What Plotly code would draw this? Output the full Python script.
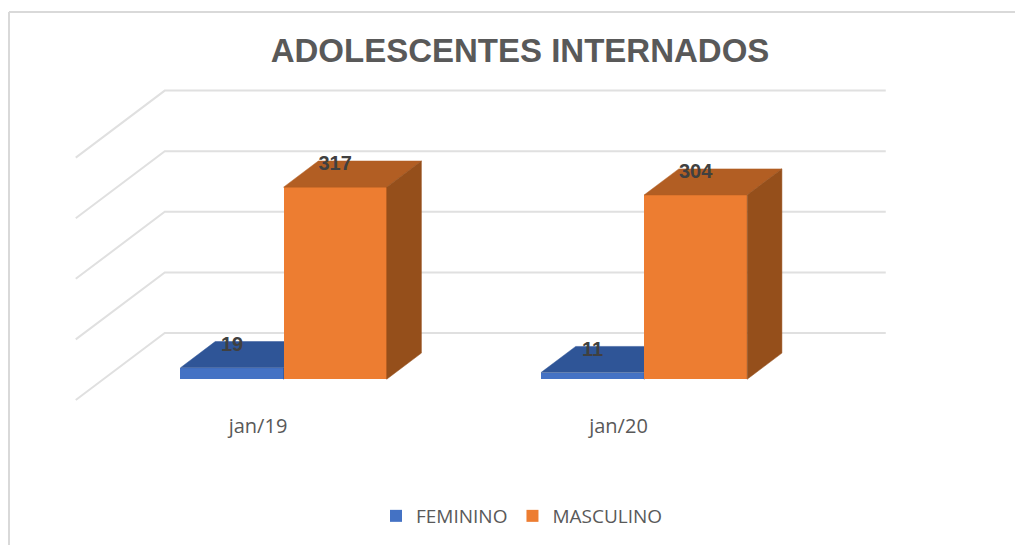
import plotly.graph_objects as go

categories = ["jan/19", "jan/20"]
cat_pos = [0, 1]
feminino = [19, 11]
masculino = [317, 304]
grid_values = [0, 100, 200, 300, 400]

W, H = 1015, 545
PX_PER_CAT = 360.5
PX_PER_VAL = 0.606
X0_PX, Y0_PX = 256, 400          # pixel of category 0 / value 0 on the front floor edge
DEPTH_X = 89 / PX_PER_CAT        # full chart depth, in x units
DEPTH_Y = 67 / PX_PER_VAL        # full chart depth, in value units
D0, D1 = 0.31, 0.70              # bar depth extent
BAR_W = 0.286
X_RANGE = [-X0_PX / PX_PER_CAT, (W - X0_PX) / PX_PER_CAT]
Y_RANGE = [(Y0_PX - H) / PX_PER_VAL, Y0_PX / PX_PER_VAL]

BLUE, BLUE_TOP = "#4472C4", "#2F5597"
ORANGE, ORANGE_TOP, ORANGE_SIDE = "#ED7D31", "#B25E23", "#954F1B"
GRID = "#E0E0E0"


def proj(x, v, d):
    return x + d * DEPTH_X, v + d * DEPTH_Y


def poly(points, color, xa, ya):
    xs, ys = zip(*[proj(*p) for p in points])
    return go.Scatter(x=list(xs) + [xs[0]], y=list(ys) + [ys[0]], mode="lines", fill="toself",
                      fillcolor=color, line=dict(color=color, width=0.5), showlegend=False,
                      hoverinfo="skip", xaxis=xa, yaxis=ya)


fig = go.Figure()

# walls' gridlines
gx, gy = [], []
for v in grid_values:
    for x, d in [(-0.5, 0), (-0.5, 1), (1.5, 1)]:
        px_, py_ = proj(x, v, d)
        gx.append(px_)
        gy.append(py_)
    gx.append(None)
    gy.append(None)
fig.add_trace(go.Scatter(x=gx, y=gy, mode="lines", line=dict(color=GRID, width=2),
                         showlegend=False, hoverinfo="skip"))


def add_series(name, values, side, color, top, side_color, xa, ya):
    xl = [c + side * BAR_W for c in cat_pos] if side < 0 else list(cat_pos)
    base = D0 * DEPTH_Y
    fig.add_trace(go.Bar(name=name, x=[x + BAR_W / 2 + D0 * DEPTH_X for x in xl], y=values,
                         base=[base] * len(values), width=BAR_W, marker=dict(color=color, line=dict(width=0)),
                         hoverinfo="skip", xaxis=xa, yaxis=ya))
    for x, v in zip(xl, values):
        xr = x + BAR_W
        fig.add_trace(poly([(x, v, D0), (xr, v, D0), (xr, v, D1), (x, v, D1)], top, xa, ya))
        fig.add_trace(poly([(xr, 0, D0), (xr, v, D0), (xr, v, D1), (xr, 0, D1)], side_color, xa, ya))


add_series("FEMININO", feminino, -1, BLUE, BLUE_TOP, BLUE_TOP, "x", "y")
add_series("MASCULINO", masculino, 1, ORANGE, ORANGE_TOP, ORANGE_SIDE, "x2", "y2")

# data labels
lx, ly, lt = [], [], []
for vals, offs in ((feminino, -BAR_W / 2), (masculino, BAR_W / 2)):
    for c, v in zip(cat_pos, vals):
        a, b = proj(c + offs, v + 36, D0)
        lx.append(a)
        ly.append(b)
        lt.append(str(v))
fig.add_trace(go.Scatter(x=lx, y=ly, mode="text", text=lt, showlegend=False, hoverinfo="skip",
                         textfont=dict(family="Liberation Sans", size=20, color="#404040", weight="bold"),
                         xaxis="x2", yaxis="y2"))

axis_off = dict(visible=False, fixedrange=True)
fig.update_layout(
    width=W, height=H, margin=dict(l=0, r=0, t=0, b=0),
    paper_bgcolor="white", plot_bgcolor="white",
    barmode="overlay", bargap=0,
    title=dict(text="ADOLESCENTES INTERNADOS", x=520 / W, xanchor="center", y=1 - 50 / H, yanchor="middle",
               font=dict(family="Liberation Sans", size=33, color="#595959", weight="bold")),
    xaxis=dict(range=X_RANGE, domain=[0, 1], anchor="free", position=1 - 412 / H, tickmode="array",
               tickvals=cat_pos, ticktext=categories, showgrid=False, zeroline=False, showline=False,
               ticks="", ticklabelshift=2, fixedrange=True,
               tickfont=dict(family="Open Sans", size=20, color="#595959")),
    yaxis=dict(range=Y_RANGE, domain=[0, 1], **axis_off),
    xaxis2=dict(range=X_RANGE, overlaying="x", **axis_off),
    yaxis2=dict(range=Y_RANGE, overlaying="y", anchor="x2", **axis_off),
    legend=dict(orientation="h", x=522 / W, xanchor="center", y=1 - 516 / H, yanchor="middle",
                font=dict(family="Open Sans", size=19, color="#595959"), bgcolor="rgba(0,0,0,0)",
                traceorder="normal"),
    shapes=[
        dict(type="line", xref="paper", yref="paper", x0=9 / W, x1=9 / W, y0=0, y1=1 - 12 / H,
             line=dict(color="#D9D9D9", width=2)),
        dict(type="line", xref="paper", yref="paper", x0=9 / W, x1=1, y0=1 - 12 / H, y1=1 - 12 / H,
             line=dict(color="#D9D9D9", width=2)),
    ],
)

fig.write_html("out.html", post_script="document.body.style.margin='0';",
               config=dict(displayModeBar=False))
